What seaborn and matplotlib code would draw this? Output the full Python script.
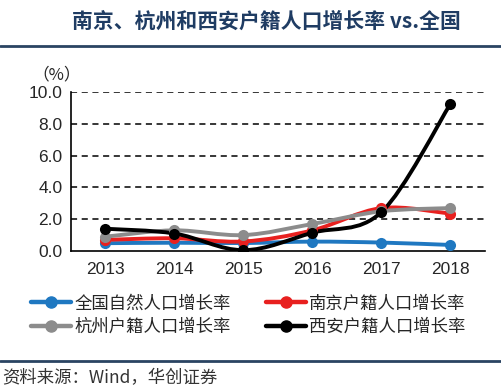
import numpy as np
import pandas as pd
import matplotlib
matplotlib.use("Agg")
import matplotlib.pyplot as plt
from matplotlib.path import Path
from matplotlib.patches import PathPatch
import seaborn as sns

years = ["2013", "2014", "2015", "2016", "2017", "2018"]
national = [0.49, 0.52, 0.50, 0.59, 0.53, 0.38]
nanjing = [0.70, 0.80, 0.60, 1.30, 2.70, 2.35]
hangzhou = [0.90, 1.30, 1.00, 1.70, 2.50, 2.70]
xian = [1.40, 1.10, 0.05, 1.15, 2.45, 9.25]

names = ["全国自然人口增长率", "南京户籍人口增长率", "杭州户籍人口增长率", "西安户籍人口增长率"]
colors = ["#1f78c1", "#e8201f", "#8c8c8c", "#000000"]
yticks = [0, 2, 4, 6, 8, 10]

df = pd.DataFrame({"year": years, names[0]: national, names[1]: nanjing,
                   names[2]: hangzhou, names[3]: xian})
long = df.melt(id_vars="year", var_name="series", value_name="rate")

sns.set_style("white")
plt.rcParams["font.family"] = ["Noto Sans CJK SC", "DejaVu Sans"]

fig = plt.figure(figsize=(5.02, 3.92), dpi=100)
ax = fig.add_axes([0.1414, 0.3597, 0.8246, 0.4056])


def smooth_path(xs, ys):
    # Excel-style smoothed line as cubic Bezier segments
    pts = np.column_stack([xs, ys]).astype(float)
    verts = [pts[0]]
    codes = [Path.MOVETO]
    n = len(pts)
    for i in range(n - 1):
        p0 = pts[i - 1] if i > 0 else pts[i]
        p1 = pts[i]
        p2 = pts[i + 1]
        p3 = pts[i + 2] if i + 2 < n else pts[i + 1]
        c1 = p1 + (p2 - p0) / 6.0
        c2 = p2 - (p3 - p1) / 6.0
        verts += [c1, c2, p2]
        codes += [Path.CURVE4] * 3
    return Path(verts, codes)


for i, name in enumerate(names):
    sub = long[long["series"] == name]
    xs = np.arange(len(sub))
    patch = PathPatch(smooth_path(xs, sub["rate"].values), facecolor="none",
                      edgecolor=colors[i], lw=2.8, zorder=3 + i, capstyle="round")
    ax.add_patch(patch)

sns.lineplot(data=long, x="year", y="rate", hue="series", palette=colors,
             marker="o", markersize=8, markeredgewidth=0, linewidth=2.8,
             linestyle="", ax=ax, legend=False, zorder=10)

ax.set_xlim(-0.5, 5.5)
ax.set_ylim(0, 10)
ax.set_yticks(yticks)
ax.set_yticklabels([f"{v:.1f}" for v in yticks], family="Liberation Sans", fontsize=12.5)
ax.set_xticks(range(len(years)))
ax.set_xticklabels(years, family="Liberation Sans", fontsize=12.5)
ax.set_xticks(np.arange(-0.5, 6, 1), minor=True)
ax.tick_params(axis="x", which="major", length=0, pad=8)
ax.tick_params(axis="x", which="minor", length=5, width=1.2, color="black", direction="out")
ax.tick_params(axis="y", length=4, width=1, color="black", direction="out", pad=2)
ax.set_xlabel("")
ax.set_ylabel("")
for y in yticks[1:]:
    ax.axhline(y, color="black", lw=1.1, ls=(0, (4, 3)), zorder=1)
for s in ["top", "right"]:
    ax.spines[s].set_visible(False)
for s in ["left", "bottom"]:
    ax.spines[s].set_color("black")
    ax.spines[s].set_linewidth(1.2)

fig.text(0.065, 0.81, "（%）", fontsize=12, ha="left", va="center")

# legend fills column-wise: reorder so rows read national/nanjing, hangzhou/xian
order = [0, 2, 1, 3]
handles = [plt.Line2D([0], [0], color=colors[k], lw=3.2, marker="o", markersize=8)
           for k in order]
fig.legend(handles, [names[k] for k in order], loc="center",
           bbox_to_anchor=(0.495, 0.196), ncol=2, frameon=False, fontsize=12.5,
           handlelength=2.3, columnspacing=2.0, labelspacing=0.3, handletextpad=0.2)

fig.text(0.53, 0.945, "南京、杭州和西安户籍人口增长率 vs.全国", fontsize=15,
         fontweight="bold", color="#1f3c63", ha="center", va="center")
fig.add_artist(plt.Line2D([0, 1], [0.882, 0.882], color="#2a4462", lw=2))
fig.add_artist(plt.Line2D([0, 1], [0.078, 0.078], color="#2a4462", lw=2))
fig.text(0.005, 0.035, "资料来源：Wind，华创证券", fontsize=12.5, color="#333333",
         style="italic", ha="left", va="center")

fig.savefig("out.png", dpi=100)
